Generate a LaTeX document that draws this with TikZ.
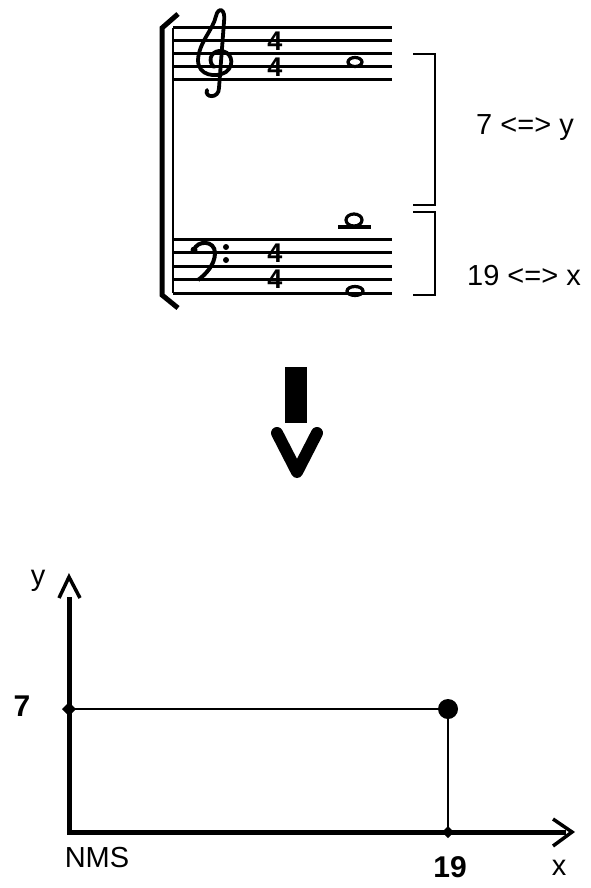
\documentclass[tikz,border=0pt]{standalone}
\usepackage{fontspec}
\setmainfont{Liberation Sans}
\begin{document}
\begin{tikzpicture}[x=1pt, y=-1pt,
    staffline/.style={line width=3pt},
    lbl/.style={font=\fontsize{29}{30}\selectfont, inner sep=0pt},
    numlbl/.style={font=\fontsize{30}{32}\selectfont\bfseries, inner sep=0pt},
    timesig/.style={font=\fontsize{27}{27}\selectfont\bfseries, inner sep=0pt}]
  \useasboundingbox (0,0) rectangle (590,888);

  % Notensystem
  \foreach \y in {28,41,54,67,80}
    \draw[staffline] (173,\y) -- (392,\y);
  \foreach \y in {239,252.5,266,279.5,293}
    \draw[staffline] (173,\y) -- (392,\y);
  \draw[line width=5pt] (178,14) -- (162,28) -- (162,295) -- (178,308);
  \draw[line width=2.5pt] (173,28) -- (173,293);

  % Schluessel
  \draw[line width=3.8pt, line cap=round]
    (207,90) .. controls (204,98) and (219,99) .. (219,88)
    -- (224,22) .. controls (226,8) and (218,7) .. (216,16)
    .. controls (213,30) and (199,42) .. (198,60)
    .. controls (198,76) and (216,78) .. (226,72)
    .. controls (236,64) and (231,50) .. (219,51)
    .. controls (210,52) and (208,62) .. (214,67);
  \fill (194,250) circle (3.5);
  \draw[line width=4pt]
    (194,250) .. controls (197,240) and (215,240) .. (215,253)
    .. controls (215,265) and (205,275) .. (198,280);
  \fill (226,247) circle (3);
  \fill (226,260) circle (3);

  % Taktangaben
  \node[timesig] (tsA) at (275,41.5) {4};
  \node[timesig] (tsB) at (275,67) {4};
  \node[timesig] (tsC) at (275,253) {4};
  \node[timesig] (tsD) at (275,279.5) {4};

  % Noten
  \draw[line width=3.2pt] (355,62) ellipse (7 and 4.5);
  \draw[line width=3.2pt] (354,220) ellipse (8 and 6);
  \draw[line width=3.2pt] (338,227) -- (371,227);
  \draw[line width=3.2pt] (355,291) ellipse (8 and 4.5);

  % Klammern
  \draw[line width=2.6pt] (413,54) -| (435,205) -- (413,205);
  \draw[line width=2.6pt] (413,212) -| (435,295) -- (413,295);
  \node[lbl] (mapy) at (525,128) {7 <=> y};
  \node[lbl] (mapx) at (524,276) {19 <=> x};

  % Pfeil
  \fill (285,367) rectangle (307,423);
  \draw[line width=12pt, line join=round, line cap=round]
    (277,433) -- (297,472) -- (317,433);

  % Diagramm
  \coordinate (O) at (69,832);
  \coordinate (ytop) at (69,597);
  \coordinate (xend) at (566,832);
  \coordinate (p7) at (69,709);
  \coordinate (p19) at (448,832);
  \coordinate (P) at (448,709);
  \draw[line width=5pt, line join=miter] (ytop) -- (O) -- (xend);
  \draw[line width=3.5pt, line join=miter] (59,598) -- (69,577) -- (80,598);
  \draw[line width=3.5pt, line join=miter] (553,819) -- (572,832) -- (553,846);
  \draw[line width=2.6pt] (p7) -- (P) -- (p19);
  \fill (p7) +(-7,0) -- +(0,-7) -- +(7,0) -- +(0,7) -- cycle;
  \fill (p19) +(-6,0) -- +(0,-6) -- +(6,0) -- +(0,6) -- cycle;
  \fill (P) circle (10);

  \node[lbl] (ylab) at (38,581) {y};
  \node[numlbl] (seven) at (22,706) {7};
  \node[lbl] (nms) at (97,858) {NMS};
  \node[numlbl] (nineteen) at (450,867) {19};
  \node[lbl] (xlab) at (559,868) {x};
\end{tikzpicture}
\end{document}
